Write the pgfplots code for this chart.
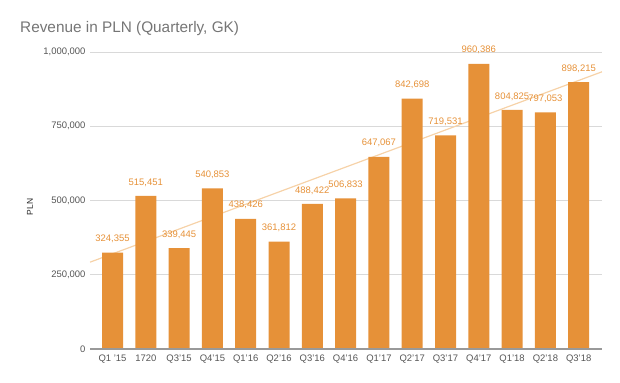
\documentclass[border=0pt]{standalone}
\usepackage{pgfplots}
\pgfplotsset{compat=1.18}
\usepackage{fontspec}
\setmainfont{Liberation Sans}
\definecolor{barc}{HTML}{E69138}
\definecolor{trendc}{HTML}{F6D2A8}
\definecolor{txt}{HTML}{555555}
\definecolor{titlec}{HTML}{757575}
\definecolor{gridc}{HTML}{D9D9D9}
\definecolor{axisc}{HTML}{999999}
\begin{document}
\begin{tikzpicture}
\path[use as bounding box] (0bp,0bp) rectangle (620bp,383bp);
\node[anchor=base west, text=titlec, font=\fontsize{15.4}{18}\selectfont, inner sep=0pt] at (20bp,350bp) {Revenue in PLN (Quarterly, GK)};
\node[rotate=90, text=black!85, font=\fontsize{8.5}{10}\selectfont, inner sep=0pt] at (30bp,176bp) {PLN};
\begin{axis}[
  at={(90bp,34bp)}, anchor=south west, scale only axis,
  width=512bp, height=297bp,
  xmin=-0.676, xmax=14.70, ymin=0, ymax=1000000,
  clip=false,
  axis line style={draw=none},
  xtick={0,...,14},
  xticklabels={Q1 '15,1720,Q3'15,Q4'15,Q1'16,Q2'16,Q3'16,Q4'16,Q1'17,Q2'17,Q3'17,Q4'17,Q1'18,Q2'18,Q3'18},
  ytick={0,250000,500000,750000,1000000},
  scaled y ticks=false,
  major tick length=0pt,
  ymajorgrids, grid style={gridc, line width=0.6bp},
  tick label style={text=txt, font=\fontsize{9.5}{11}\selectfont},
  xticklabel style={yshift=-2bp},
  yticklabel style={xshift=-1bp, /pgf/number format/.cd, fixed, 1000 sep={,}, assume math mode=true},
]
\addplot[trendc, line width=1.2bp, no marks, sharp plot] coordinates {(-0.676,292300) (14.70,933400)};
\addplot[ybar, bar width=21bp, bar shift=0pt, fill=barc, draw=none,
  nodes near coords,
  every node near coord/.append style={text=barc, font=\fontsize{9.5}{11}\selectfont, anchor=south, inner sep=0pt, yshift=9.5bp,
    /pgf/number format/.cd, fixed, 1000 sep={,}, assume math mode=true}]
  coordinates {
  (0,324355) (1,515451) (2,339445) (3,540853) (4,438426)
  (5,361812) (6,488422) (7,506833) (8,647067) (9,842698)
  (10,719531) (11,960386) (12,804825) (13,797053) (14,898215)};
\draw[axisc, line width=1.2bp] (axis cs:-0.676,0) -- (axis cs:14.70,0);
\end{axis}
\end{tikzpicture}
\end{document}
